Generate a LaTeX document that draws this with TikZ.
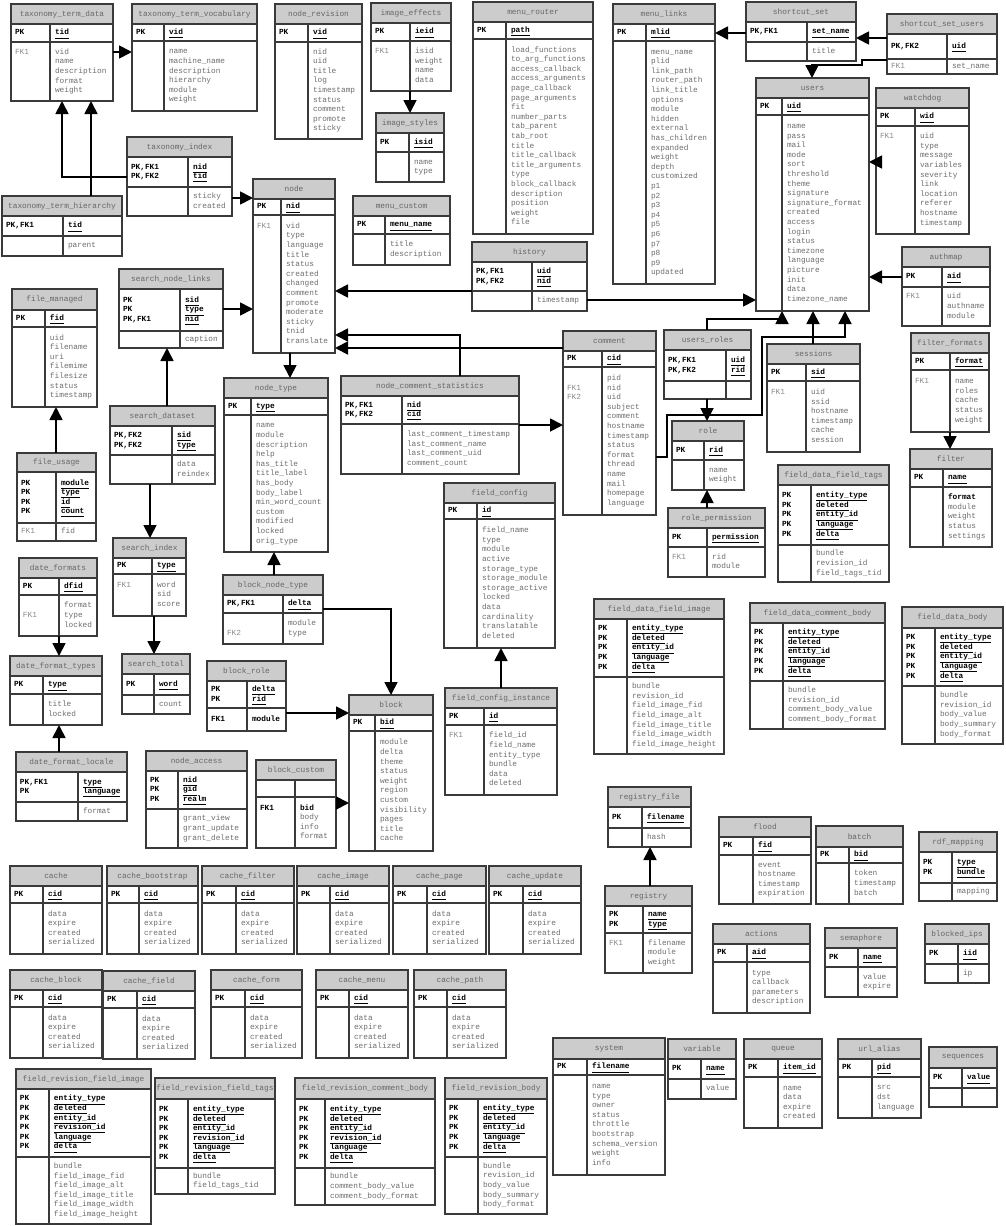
\documentclass[tikz,border=0pt]{standalone}
\usepackage{fontspec}
\setmainfont{Liberation Mono}
\usepackage{array}
\usetikzlibrary{arrows.meta}

\definecolor{hdrfill}{HTML}{CCCCCC}
\definecolor{framecol}{HTML}{3A3A3A}
\definecolor{titletxt}{HTML}{666666}
\definecolor{fieldtxt}{HTML}{6E6E6E}
\definecolor{fktxt}{HTML}{8A8A8A}

% key section: both columns bold black; attribute section: grey text
\newcolumntype{K}{@{\hspace{4pt}}>{\bfseries\color{black}}w{l}{\dimexpr\erS pt-\erX pt-4pt\relax}@{\hspace{5pt}}>{\bfseries\color{black}}l@{}}
\newcolumntype{F}{@{\hspace{4pt}}>{\color{fktxt}}w{l}{\dimexpr\erS pt-\erX pt-4pt\relax}@{\hspace{5pt}}>{\color{fieldtxt}}l@{}}

\newcommand\keyf[1]{\smash{\underline{\smash{#1}\vphantom{,}}}}
\newcommand\strongf[1]{{\bfseries\color{black}#1}}

\tikzset{
  tblframe/.style={draw=framecol, line width=1.3pt, inner sep=0pt, outer sep=0pt, anchor=north west},
  tblline/.style={draw=framecol, line width=1.3pt},
  tbltitle/.style={font=\fontsize{7.8}{9.6}\selectfont, text=titletxt, inner sep=0pt},
  tblcell/.style={font=\fontsize{7.8}{9.6}\selectfont, anchor=west, inner sep=0pt, outer sep=0pt},
  conn/.style={line width=1.8pt, draw=black, -{Triangle[length=13pt,width=13pt]}}
}

% \ertable{name}{x left}{x right}{x split}{y top}{y title}{y keys}{y bottom}{title}{key rows}{attribute rows}
\newcommand\ertable[9]{%
  \def\erN{#1}\def\erX{#2}\def\erXX{#3}\def\erS{#4}%
  \def\erY{#5}\def\erYa{#6}\def\erYb{#7}\def\erYy{#8}\def\erT{#9}%
  \ertablerest}
\newcommand\ertablerest[2]{%
  \fill[hdrfill] (\erX,\erY) rectangle (\erXX,\erYa);
  \draw[tblline] (\erX,\erYa) -- (\erXX,\erYa) (\erX,\erYb) -- (\erXX,\erYb) (\erS,\erYa) -- (\erS,\erYy);
  \node[tblframe, minimum width={(\erXX-\erX)*1pt}, minimum height={(\erYy-\erY)*1pt}] (\erN) at (\erX,\erY) {};
  \node[tbltitle] at ({(\erX+\erXX)/2},{(\erY+\erYa)/2}) {\erT};
  \node[tblcell] at (\erX,{(\erYa+\erYb)/2}) {\begin{tabular}{K}#1\end{tabular}};
  \node[tblcell] at (\erX,{(\erYb+\erYy)/2}) {\begin{tabular}{F}#2\end{tabular}};
}

\begin{document}
\catcode`\_=12
\begin{tikzpicture}[x=1pt, y=-1pt]
\fill[white] (0,0) rectangle (1005,1226);
\useasboundingbox (0,0) rectangle (1005,1226);

% ---------- top row ----------
\ertable{tdata}{11}{113}{50}{4}{24}{42}{101}{taxonomy_term_data}
  {PK & \keyf{tid}}
  {FK1 & vid\\ & name\\ & description\\ & format\\ & weight}
\ertable{tvocab}{132}{257}{164}{4}{24}{41}{111}{taxonomy_term_vocabulary}
  {PK & \keyf{vid}}
  { & name\\ & machine_name\\ & description\\ & hierarchy\\ & module\\ & weight}
\ertable{nrev}{275}{362}{308}{4}{24}{42}{139}{node_revision}
  {PK & \keyf{vid}}
  { & nid\\ & uid\\ & title\\ & log\\ & timestamp\\ & status\\ & comment\\ & promote\\ & sticky}
\ertable{ieff}{371}{451}{410}{3}{23}{41}{91}{image_effects}
  {PK & \keyf{ieid}}
  {FK1 & isid\\ & weight\\ & name\\ & data}
\ertable{istyle}{376}{444}{409}{113}{133}{152}{182}{image_styles}
  {PK & \keyf{isid}}
  { & name\\ & type}
\ertable{mrouter}{473}{593}{506}{2}{22}{39}{234}{menu_router}
  {PK & \keyf{path}}
  { & load_functions\\ & to_arg_functions\\ & access_callback\\ & access_arguments\\ & page_callback\\ & page_arguments\\ & fit\\ & number_parts\\ & tab_parent\\ & tab_root\\ & title\\ & title_callback\\ & title_arguments\\ & type\\ & block_callback\\ & description\\ & position\\ & weight\\ & file}
\ertable{mlinks}{613}{715}{646}{4}{24}{41}{284}{menu_links}
  {PK & \keyf{mlid}}
  { & menu_name\\ & plid\\ & link_path\\ & router_path\\ & link_title\\ & options\\ & module\\ & hidden\\ & external\\ & has_children\\ & expanded\\ & weight\\ & depth\\ & customized\\ & p1\\ & p2\\ & p3\\ & p4\\ & p5\\ & p6\\ & p7\\ & p8\\ & p9\\ & updated}
\ertable{sset}{746}{856}{807}{2}{22}{42}{61}{shortcut_set}
  {PK,FK1 & \keyf{set_name}}
  { & title}
\ertable{ssu}{887}{997}{947}{14}{34}{59}{74}{shortcut_set_users}
  {PK,FK2 & \keyf{uid}}
  {FK1 & set_name}
\ertable{users}{756}{869}{782}{78}{98}{115}{311}{users}
  {PK & \keyf{uid}}
  { & name\\ & pass\\ & mail\\ & mode\\ & sort\\ & threshold\\ & theme\\ & signature\\ & signature_format\\ & created\\ & access\\ & login\\ & status\\ & timezone\\ & language\\ & picture\\ & init\\ & data\\ & timezone_name}
\ertable{wdog}{876}{969}{915}{88}{108}{126}{234}{watchdog}
  {PK & \keyf{wid}}
  {FK1 & uid\\ & type\\ & message\\ & variables\\ & severity\\ & link\\ & location\\ & referer\\ & hostname\\ & timestamp}
\ertable{authmap}{902}{990}{942}{247}{267}{287}{326}{authmap}
  {PK & \keyf{aid}}
  {FK1 & uid\\ & authname\\ & module}

% ---------- node area ----------
\ertable{nnode}{253}{335}{281}{179}{199}{215}{353}{node}
  {PK & \keyf{nid}}
  {FK1 & vid\\ & type\\ & language\\ & title\\ & status\\ & created\\ & changed\\ & comment\\ & promote\\ & moderate\\ & sticky\\ & tnid\\ & translate}
\ertable{tindex}{127}{232}{188}{137}{157}{187}{216}{taxonomy_index}
  {PK,FK1 & \keyf{nid}\\ PK,FK2 & \keyf{tid}}
  { & sticky\\ & created}
\ertable{thier}{2}{122}{63}{196}{216}{236}{256}{taxonomy_term_hierarchy}
  {PK,FK1 & \keyf{tid}}
  { & parent}
\ertable{mcustom}{353}{450}{385}{196}{216}{234}{265}{menu_custom}
  {PK & \keyf{menu_name}}
  { & title\\ & description}
\ertable{history}{472}{587}{532}{242}{262}{291}{311}{history}
  {PK,FK1 & \keyf{uid}\\ PK,FK2 & \keyf{nid}}
  { & timestamp}
\ertable{snl}{119}{223}{180}{269}{289}{331}{348}{search_node_links}
  {PK & \keyf{sid}\\ PK & \keyf{type}\\ PK,FK1 & \keyf{nid}}
  { & caption}
\ertable{fmanaged}{12}{97}{45}{289}{310}{327}{407}{file_managed}
  {PK & \keyf{fid}}
  { & uid\\ & filename\\ & uri\\ & filemime\\ & filesize\\ & status\\ & timestamp}
\ertable{fusage}{17}{96}{56}{453}{472}{523}{541}{file_usage}
  {PK & \keyf{module}\\ PK & \keyf{type}\\ PK & \keyf{id}\\ PK & \keyf{count}}
  {FK1 & fid}
\ertable{ntype}{224}{328}{251}{378}{398}{415}{552}{node_type}
  {PK & \keyf{type}}
  { & name\\ & module\\ & description\\ & help\\ & has_title\\ & title_label\\ & has_body\\ & body_label\\ & min_word_count\\ & custom\\ & modified\\ & locked\\ & orig_type}
\ertable{sdataset}{110}{215}{172}{406}{426}{455}{484}{search_dataset}
  {PK,FK2 & \keyf{sid}\\ PK,FK2 & \keyf{type}}
  { & data\\ & reindex}
\ertable{sindex}{113}{186}{152}{538}{558}{574}{616}{search_index}
  {PK & \keyf{type}}
  {FK1 & word\\ & sid\\ & score}
\ertable{dformats}{19}{97}{59}{558}{578}{595}{636}{date_formats}
  {PK & \keyf{dfid}}
  { & format\\ FK1 & type\\ & locked}
\ertable{dftypes}{10}{102}{43}{656}{676}{694}{725}{date_format_types}
  {PK & \keyf{type}}
  { & title\\ & locked}
\ertable{dflocale}{16}{127}{78}{752}{772}{802}{821}{date_format_locale}
  {PK,FK1 & \keyf{type}\\ PK & \keyf{language}}
  { & format}
\ertable{stotal}{122}{190}{154}{654}{674}{695}{714}{search_total}
  {PK & \keyf{word}}
  { & count}
\ertable{bnt}{223}{323}{283}{575}{595}{613}{644}{block_node_type}
  {PK,FK1 & \keyf{delta}}
  { & module\\ FK2 & type}
\ertable{brole}{207}{286}{247}{661}{681}{708}{731}{block_role}
  {PK & \keyf{delta}\\ PK & \keyf{rid}}
  {\strongf{FK1} & \strongf{module}}
\ertable{block}{349}{433}{375}{695}{715}{731}{851}{block}
  {PK & \keyf{bid}}
  { & module\\ & delta\\ & theme\\ & status\\ & weight\\ & region\\ & custom\\ & visibility\\ & pages\\ & title\\ & cache}
\ertable{bcustom}{256}{336}{295}{760}{780}{797}{848}{block_custom}
  {}
  {\strongf{FK1} & \strongf{bid}\\ & body\\ & info\\ & format}
\ertable{naccess}{146}{247}{178}{751}{771}{809}{848}{node_access}
  {PK & \keyf{nid}\\ PK & \keyf{gid}\\ PK & \keyf{realm}}
  { & grant_view\\ & grant_update\\ & grant_delete}

% ---------- comment / users area ----------
\ertable{ncs}{341}{519}{402}{376}{396}{424}{474}{node_comment_statistics}
  {PK,FK1 & \keyf{nid}\\ PK,FK2 & \keyf{cid}}
  { & last_comment_timestamp\\ & last_comment_name\\ & last_comment_uid\\ & comment_count}
\ertable{comment}{563}{656}{602}{331}{351}{367}{515}{comment}
  {PK & \keyf{cid}}
  { & pid\\ FK1 & nid\\ FK2 & uid\\ & subject\\ & comment\\ & hostname\\ & timestamp\\ & status\\ & format\\ & thread\\ & name\\ & mail\\ & homepage\\ & language}
\ertable{uroles}{664}{751}{726}{330}{350}{381}{399}{users_roles}
  {PK,FK1 & \keyf{uid}\\ PK,FK2 & \keyf{rid}}
  {}
\ertable{role}{672}{744}{704}{421}{441}{460}{490}{role}
  {PK & \keyf{rid}}
  { & name\\ & weight}
\ertable{rperm}{668}{765}{707}{508}{528}{547}{577}{role_permission}
  {PK & \keyf{permission}}
  {FK1 & rid\\ & module}
\ertable{sessions}{767}{860}{806}{344}{364}{381}{452}{sessions}
  {PK & \keyf{sid}}
  {FK1 & uid\\ & ssid\\ & hostname\\ & timestamp\\ & cache\\ & session}
\ertable{ffmt}{911}{989}{950}{333}{353}{370}{432}{filter_formats}
  {PK & \keyf{format}}
  {FK1 & name\\ & roles\\ & cache\\ & status\\ & weight}
\ertable{filter}{910}{992}{943}{449}{469}{487}{547}{filter}
  {PK & \keyf{name}}
  { & \strongf{format}\\ & module\\ & weight\\ & status\\ & settings}
\ertable{fdtags}{778}{889}{811}{465}{485}{545}{582}{field_data_field_tags}
  {PK & \keyf{entity_type}\\ PK & \keyf{deleted}\\ PK & \keyf{entity_id}\\ PK & \keyf{language}\\ PK & \keyf{delta}}
  { & bundle\\ & revision_id\\ & field_tags_tid}

% ---------- field area ----------
\ertable{fconfig}{444}{555}{477}{483}{503}{519}{648}{field_config}
  {PK & \keyf{id}}
  { & field_name\\ & type\\ & module\\ & active\\ & storage_type\\ & storage_module\\ & storage_active\\ & locked\\ & data\\ & cardinality\\ & translatable\\ & deleted}
\ertable{fci}{445}{557}{484}{688}{708}{725}{795}{field_config_instance}
  {PK & \keyf{id}}
  {FK1 & field_id\\ & field_name\\ & entity_type\\ & bundle\\ & data\\ & deleted}
\ertable{fdimage}{594}{724}{627}{599}{619}{677}{754}{field_data_field_image}
  {PK & \keyf{entity_type}\\ PK & \keyf{deleted}\\ PK & \keyf{entity_id}\\ PK & \keyf{language}\\ PK & \keyf{delta}}
  { & bundle\\ & revision_id\\ & field_image_fid\\ & field_image_alt\\ & field_image_title\\ & field_image_width\\ & field_image_height}
\ertable{fdcbody}{750}{885}{783}{603}{623}{681}{729}{field_data_comment_body}
  {PK & \keyf{entity_type}\\ PK & \keyf{deleted}\\ PK & \keyf{entity_id}\\ PK & \keyf{language}\\ PK & \keyf{delta}}
  { & bundle\\ & revision_id\\ & comment_body_value\\ & comment_body_format}
\ertable{fdbody}{902}{1003}{935}{607}{628}{686}{744}{field_data_body}
  {PK & \keyf{entity_type}\\ PK & \keyf{deleted}\\ PK & \keyf{entity_id}\\ PK & \keyf{language}\\ PK & \keyf{delta}}
  { & bundle\\ & revision_id\\ & body_value\\ & body_summary\\ & body_format}
\ertable{regfile}{608}{691}{642}{787}{807}{828}{847}{registry_file}
  {PK & \keyf{filename}}
  { & hash}
\ertable{registry}{605}{692}{643}{886}{906}{933}{973}{registry}
  {PK & \keyf{name}\\ PK & \keyf{type}}
  {FK1 & filename\\ & module\\ & weight}
\ertable{flood}{719}{811}{753}{817}{837}{855}{904}{flood}
  {PK & \keyf{fid}}
  { & event\\ & hostname\\ & timestamp\\ & expiration}
\ertable{batch}{816}{903}{849}{826}{847}{863}{904}{batch}
  {PK & \keyf{bid}}
  { & token\\ & timestamp\\ & batch}
\ertable{rdf}{919}{997}{952}{832}{852}{883}{901}{rdf_mapping}
  {PK & \keyf{type}\\ PK & \keyf{bundle}}
  { & mapping}
\ertable{actions}{713}{810}{747}{924}{944}{962}{1013}{actions}
  {PK & \keyf{aid}}
  { & type\\ & callback\\ & parameters\\ & description}
\ertable{semaphore}{825}{897}{858}{928}{948}{967}{997}{semaphore}
  {PK & \keyf{name}}
  { & value\\ & expire}
\ertable{blockedips}{925}{989}{958}{924}{944}{964}{983}{blocked_ips}
  {PK & \keyf{iid}}
  { & ip}
\ertable{system}{553}{665}{587}{1038}{1059}{1075}{1175}{system}
  {PK & \keyf{filename}}
  { & name\\ & type\\ & owner\\ & status\\ & throttle\\ & bootstrap\\ & schema_version\\ & weight\\ & info}
\ertable{variable}{668}{736}{701}{1039}{1059}{1079}{1099}{variable}
  {PK & \keyf{name}}
  { & value}
\ertable{queue}{744}{822}{778}{1039}{1059}{1077}{1128}{queue}
  {PK & \keyf{item_id}}
  { & name\\ & data\\ & expire\\ & created}
\ertable{urlalias}{838}{921}{872}{1039}{1059}{1077}{1118}{url_alias}
  {PK & \keyf{pid}}
  { & src\\ & dst\\ & language}
\ertable{sequences}{929}{997}{962}{1047}{1068}{1088}{1107}{sequences}
  {PK & \keyf{value}}
  {}

% ---------- cache tables ----------
\ertable{cache}{10}{102}{43}{866}{886}{903}{954}{cache}
  {PK & \keyf{cid}}{ & data\\ & expire\\ & created\\ & serialized}
\ertable{cbootstrap}{107}{198}{139}{866}{886}{903}{954}{cache_bootstrap}
  {PK & \keyf{cid}}{ & data\\ & expire\\ & created\\ & serialized}
\ertable{cfilter}{202}{294}{236}{866}{886}{903}{954}{cache_filter}
  {PK & \keyf{cid}}{ & data\\ & expire\\ & created\\ & serialized}
\ertable{cimage}{297}{389}{330}{866}{886}{903}{954}{cache_image}
  {PK & \keyf{cid}}{ & data\\ & expire\\ & created\\ & serialized}
\ertable{cpage}{393}{486}{427}{866}{886}{903}{954}{cache_page}
  {PK & \keyf{cid}}{ & data\\ & expire\\ & created\\ & serialized}
\ertable{cupdate}{489}{581}{523}{866}{886}{903}{954}{cache_update}
  {PK & \keyf{cid}}{ & data\\ & expire\\ & created\\ & serialized}
\ertable{cblock}{10}{102}{43}{970}{990}{1007}{1058}{cache_block}
  {PK & \keyf{cid}}{ & data\\ & expire\\ & created\\ & serialized}
\ertable{cfield}{103}{195}{137}{971}{991}{1008}{1059}{cache_field}
  {PK & \keyf{cid}}{ & data\\ & expire\\ & created\\ & serialized}
\ertable{cform}{211}{302}{245}{970}{990}{1007}{1058}{cache_form}
  {PK & \keyf{cid}}{ & data\\ & expire\\ & created\\ & serialized}
\ertable{cmenu}{316}{408}{349}{970}{990}{1007}{1058}{cache_menu}
  {PK & \keyf{cid}}{ & data\\ & expire\\ & created\\ & serialized}
\ertable{cpath}{414}{506}{447}{970}{990}{1007}{1058}{cache_path}
  {PK & \keyf{cid}}{ & data\\ & expire\\ & created\\ & serialized}

% ---------- revision tables ----------
\ertable{frimage}{16}{151}{49}{1069}{1089}{1157}{1224}{field_revision_field_image}
  {PK & \keyf{entity_type}\\ PK & \keyf{deleted}\\ PK & \keyf{entity_id}\\ PK & \keyf{revision_id}\\ PK & \keyf{language}\\ PK & \keyf{delta}}
  { & bundle\\ & field_image_fid\\ & field_image_alt\\ & field_image_title\\ & field_image_width\\ & field_image_height}
\ertable{frtags}{155}{275}{188}{1078}{1099}{1168}{1194}{field_revision_field_tags}
  {PK & \keyf{entity_type}\\ PK & \keyf{deleted}\\ PK & \keyf{entity_id}\\ PK & \keyf{revision_id}\\ PK & \keyf{language}\\ PK & \keyf{delta}}
  { & bundle\\ & field_tags_tid}
\ertable{frcbody}{295}{435}{325}{1078}{1099}{1168}{1205}{field_revision_comment_body}
  {PK & \keyf{entity_type}\\ PK & \keyf{deleted}\\ PK & \keyf{entity_id}\\ PK & \keyf{revision_id}\\ PK & \keyf{language}\\ PK & \keyf{delta}}
  { & bundle\\ & comment_body_value\\ & comment_body_format}
\ertable{frbody}{445}{547}{478}{1078}{1099}{1157}{1214}{field_revision_body}
  {PK & \keyf{entity_type}\\ PK & \keyf{deleted}\\ PK & \keyf{entity_id}\\ PK & \keyf{language}\\ PK & \keyf{delta}}
  { & bundle\\ & revision_id\\ & body_value\\ & body_summary\\ & body_format}

% ---------- relationships ----------
\coordinate (r1) at ([yshift=-48pt]tdata.north east);
\draw[conn] (r1) -- (r1 -| tvocab.west);
\coordinate (r2a) at ([yshift=-40pt]tindex.north west);
\coordinate (r2b) at ([xshift=51pt]tdata.south west);
\draw[conn] (r2a) -| (r2b);
\coordinate (r3) at ([xshift=89pt]thier.north west);
\draw[conn] (r3) -- (r3 |- tdata.south);
\coordinate (r4) at ([yshift=-61pt]tindex.north east);
\draw[conn] (r4) -- (r4 -| nnode.west);
\coordinate (r5) at ([xshift=39pt]ieff.south west);
\draw[conn] (r5) -- (r5 |- istyle.north);
\coordinate (r6) at ([yshift=-31pt]sset.north west);
\draw[conn] (r6) -- (r6 -| mlinks.east);
\coordinate (r7) at ([yshift=-24pt]ssu.north west);
\draw[conn] (r7) -- (r7 -| sset.east);
\coordinate (r8a) at ([yshift=-46pt]ssu.north west);
\coordinate (r8b) at ([xshift=56pt]users.north west);
\draw[conn] (r8a) -- ++(-25pt,0pt) -- ++(0pt,-5pt) -| (r8b);
\coordinate (r9) at ([yshift=-74pt]wdog.north west);
\draw[conn] (r9) -- (r9 -| users.east);
\coordinate (r10) at ([yshift=-30pt]authmap.north west);
\draw[conn] (r10) -- (r10 -| users.east);
\coordinate (r11) at ([yshift=-49pt]history.north west);
\draw[conn] (r11) -- (r11 -| nnode.east);
\coordinate (r12) at ([yshift=-58pt]history.north east);
\draw[conn] (r12) -- (r12 -| users.west);
\coordinate (r13) at ([yshift=-40pt]snl.north east);
\draw[conn] (r13) -- (r13 -| nnode.west);
\coordinate (r14) at ([xshift=37pt]nnode.south west);
\draw[conn] (r14) -- (r14 |- ntype.north);
\coordinate (r15a) at ([xshift=119pt]ncs.north west);
\coordinate (r15b) at ([yshift=-156pt]nnode.north east);
\draw[conn] (r15a) |- (r15b);
\coordinate (r16) at ([yshift=-17pt]comment.north west);
\draw[conn] (r16) -- (r16 -| nnode.east);
\coordinate (r17) at ([yshift=-49pt]ncs.north east);
\draw[conn] (r17) -- (r17 -| comment.west);
\coordinate (r18a) at ([yshift=-126pt]comment.north east);
\coordinate (r18b) at ([xshift=89pt]users.south west);
\draw[conn] (r18a) -- ++(11pt,0pt) -- ++(0pt,42pt) -- ++(95pt,0pt) -- ++(0pt,78pt) -| (r18b);
\coordinate (r19a) at ([xshift=43pt]uroles.north west);
\coordinate (r19b) at ([xshift=26pt]users.south west);
\draw[conn] (r19a) -- ++(0pt,11pt) -| (r19b);
\coordinate (r20) at ([xshift=46pt]sessions.north west);
\draw[conn] (r20) -- (r20 |- users.south);
\coordinate (r21) at ([xshift=43pt]uroles.south west);
\draw[conn] (r21) -- (r21 |- role.north);
\coordinate (r22) at ([xshift=39pt]rperm.north west);
\draw[conn] (r22) -- (r22 |- role.south);
\coordinate (r23) at ([xshift=39pt]ffmt.south west);
\draw[conn] (r23) -- (r23 |- filter.north);
\coordinate (r24) at ([xshift=39pt]fusage.north west);
\draw[conn] (r24) -- (r24 |- fmanaged.south);
\coordinate (r25) at ([xshift=57pt]sdataset.north west);
\draw[conn] (r25) -- (r25 |- snl.south);
\coordinate (r26) at ([xshift=40pt]sdataset.south west);
\draw[conn] (r26) -- (r26 |- sindex.north);
\coordinate (r27) at ([xshift=41pt]sindex.south west);
\draw[conn] (r27) -- (r27 |- stotal.north);
\coordinate (r28) at ([xshift=40pt]dformats.south west);
\draw[conn] (r28) -- (r28 |- dftypes.north);
\coordinate (r29) at ([xshift=43pt]dflocale.north west);
\draw[conn] (r29) -- (r29 |- dftypes.south);
\coordinate (r30) at ([xshift=51pt]bnt.north west);
\draw[conn] (r30) -- (r30 |- ntype.south);
\coordinate (r31a) at ([yshift=-34pt]bnt.north east);
\coordinate (r31b) at ([xshift=42pt]block.north west);
\draw[conn] (r31a) -| (r31b);
\coordinate (r32) at ([yshift=-52pt]brole.north east);
\draw[conn] (r32) -- (r32 -| block.west);
\coordinate (r33) at ([yshift=-43pt]bcustom.north east);
\draw[conn] (r33) -- (r33 -| block.west);
\coordinate (r34) at ([xshift=56pt]fci.north west);
\draw[conn] (r34) -- (r34 |- fconfig.south);
\coordinate (r35) at ([xshift=45pt]registry.north west);
\draw[conn] (r35) -- (r35 |- regfile.south);
\end{tikzpicture}
\end{document}
